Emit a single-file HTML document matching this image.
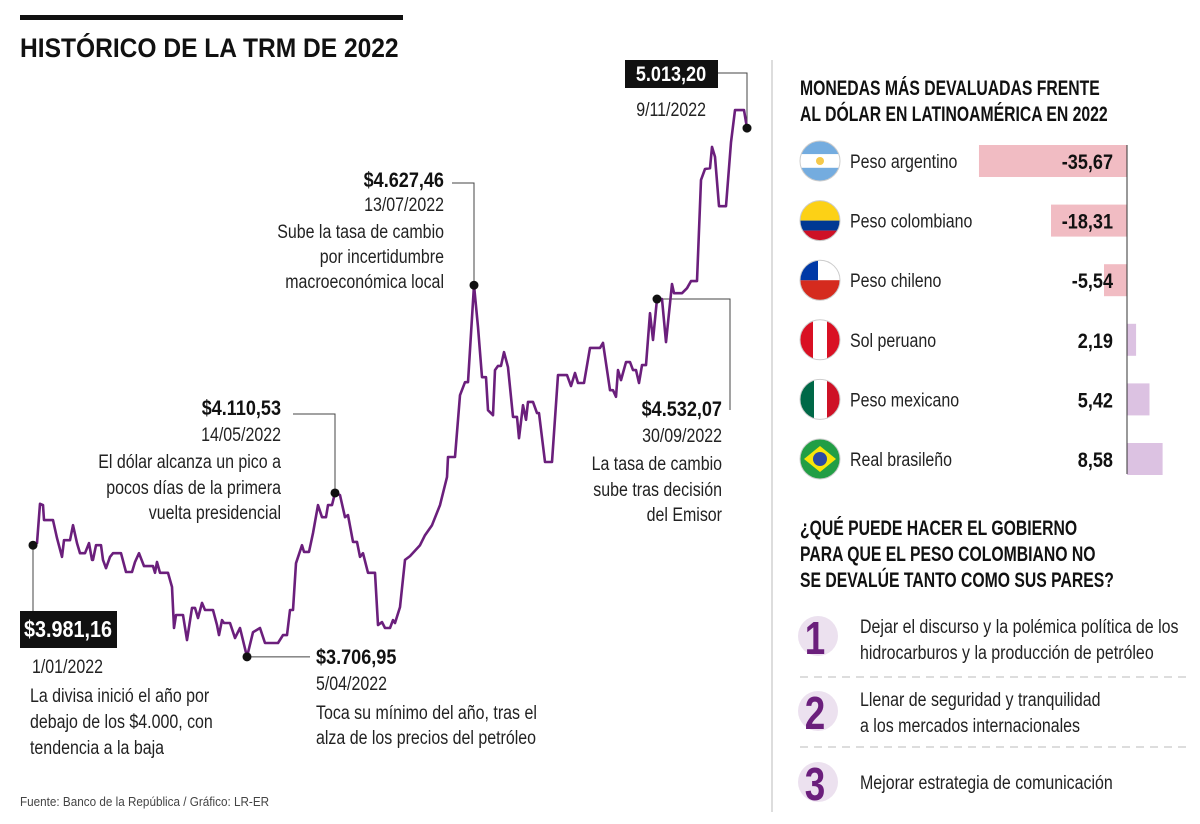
<!DOCTYPE html>
<html><head><meta charset="utf-8">
<style>
html,body{margin:0;padding:0;background:#fff;}
svg{display:block;font-family:"Liberation Sans Narrow","Liberation Sans",sans-serif;}
.t{font-size:19px;fill:#222;}
.b{font-size:21px;font-weight:bold;fill:#111;}
.w{font-size:21px;font-weight:bold;fill:#fff;}
.h{font-size:21px;font-weight:bold;fill:#111;}
</style></head>
<body>
<svg id="chart" width="1200" height="824" viewBox="0 0 1200 824">
  <rect x="20" y="15" width="383" height="5" fill="#111"/>
  <text x="20" y="57" data-k="0.91" style="font-size:27px;font-weight:bold;fill:#111">HISTÓRICO DE LA TRM DE 2022</text>
  <g id="connectors" stroke="#444" stroke-width="1" fill="none"></g>
  <path id="trm-line" fill="none" stroke="#6b1f7c" stroke-width="2.6" stroke-linejoin="round"/>
  <g id="dots"></g>

  <rect x="625" y="60" width="93" height="28" fill="#111"/>
  <text x="671" y="81" text-anchor="middle" class="w">5.013,20</text>
  <text x="706" y="116" text-anchor="end" class="t">9/11/2022</text>

  <g text-anchor="end">
    <text x="444" y="187" class="b">$4.627,46</text>
    <text x="444" y="211" class="t">13/07/2022</text>
    <text x="444" y="238" class="t">Sube la tasa de cambio</text>
    <text x="444" y="263" class="t">por incertidumbre</text>
    <text x="444" y="288" class="t">macroeconómica local</text>
  </g>
  <g text-anchor="end">
    <text x="281" y="415" class="b">$4.110,53</text>
    <text x="281" y="441" class="t">14/05/2022</text>
    <text x="281" y="468" class="t">El dólar alcanza un pico a</text>
    <text x="281" y="494" class="t">pocos días de la primera</text>
    <text x="281" y="519" class="t">vuelta presidencial</text>
  </g>
  <g>
    <rect x="20" y="611" width="97" height="37" fill="#111"/>
    <text x="68" y="637" text-anchor="middle" class="w" style="font-size:23px">$3.981,16</text>
    <text x="32" y="673" class="t">1/01/2022</text>
    <text x="30" y="702" class="t">La divisa inició el año por</text>
    <text x="30" y="728" class="t">debajo de los $4.000, con</text>
    <text x="30" y="754" class="t">tendencia a la baja</text>
  </g>
  <g>
    <text x="316" y="664" class="b">$3.706,95</text>
    <text x="316" y="690" class="t">5/04/2022</text>
    <text x="316" y="719" class="t">Toca su mínimo del año, tras el</text>
    <text x="316" y="744" class="t">alza de los precios del petróleo</text>
  </g>
  <g text-anchor="end">
    <text x="722" y="416" class="b">$4.532,07</text>
    <text x="722" y="442" class="t">30/09/2022</text>
    <text x="722" y="470" class="t">La tasa de cambio</text>
    <text x="722" y="496" class="t">sube tras decisión</text>
    <text x="722" y="521" class="t">del Emisor</text>
  </g>
  <text x="20" y="806" style="font-size:13px;fill:#444">Fuente: Banco de la República / Gráfico: LR-ER</text>

  <line x1="772" y1="60" x2="772" y2="812" stroke="#bbb" stroke-width="1"/>

  <text x="800" y="95" class="h" data-k="0.75">MONEDAS MÁS DEVALUADAS FRENTE</text>
  <text x="800" y="121" class="h" data-k="0.75">AL DÓLAR EN LATINOAMÉRICA EN 2022</text>
  <g id="bars"></g>

  <text x="800" y="535" class="h" data-k="0.75">¿QUÉ PUEDE HACER EL GOBIERNO</text>
  <text x="800" y="561" class="h" data-k="0.75">PARA QUE EL PESO COLOMBIANO NO</text>
  <text x="800" y="587" class="h" data-k="0.75">SE DEVALÚE TANTO COMO SUS PARES?</text>

  <g>
    <circle cx="818" cy="636" r="20" fill="#ece1ef"/>
    <text x="815" y="654" text-anchor="middle" data-k="0.8" style="font-size:46px;font-weight:bold;fill:#6b1f7c">1</text>
    <text x="860" y="633" class="t">Dejar el discurso y la polémica política de los</text>
    <text x="860" y="659" class="t">hidrocarburos y la producción de petróleo</text>
  </g>
  <line x1="800" y1="677" x2="1190" y2="677" stroke="#bbb" stroke-dasharray="8,6"/>
  <g>
    <circle cx="818" cy="711" r="20" fill="#ece1ef"/>
    <text x="815" y="729" text-anchor="middle" data-k="0.8" style="font-size:46px;font-weight:bold;fill:#6b1f7c">2</text>
    <text x="860" y="706" class="t">Llenar de seguridad y tranquilidad</text>
    <text x="860" y="732" class="t">a los mercados internacionales</text>
  </g>
  <line x1="800" y1="747" x2="1190" y2="747" stroke="#bbb" stroke-dasharray="8,6"/>
  <g>
    <circle cx="818" cy="782" r="20" fill="#ece1ef"/>
    <text x="815" y="800" text-anchor="middle" data-k="0.8" style="font-size:46px;font-weight:bold;fill:#6b1f7c">3</text>
    <text x="860" y="789" class="t">Mejorar estrategia de comunicación</text>
  </g>
</svg>
<script>
// TRM series (trading-day index, COP per USD)
const dayIdx = [0,4,7,10,11,20,24,29,31,37,40,44,47,52,56,59,60,63,68,70,73,77,80,88,93,99,102,106,111,120,122,124,127,135,139,141,143,150,154,159,162,165,169,172,180,184,186,189,191,197,202,207,214,220,227,232,245,250,254,257,260,263,269,271,276,280,285,289,293,295,299,302,307,312,315,320,324,327,330,335,342,345,349,352,357,360,362,367,372,377,387,392,399,407,414,415,422,427,432,435,441,445,449,453,455,460,462,465,468,471,475,480,484,486,490,493,495,500,504,506,512,519,525,529,534,538,542,545,551,557,567,570,577,580,583,585,588,593,597,600,603,606,609,613,617,620,624,629,633,639,641,649,654,658,664,668,672,677,679,682,686,693,698,702,711,714];
const trm = [3972,3977,4071,4068,4032,4032,3989,3944,3984,3984,4020,3977,3953,3953,3977,3937,3937,3972,3972,3937,3917,3944,3953,3953,3908,3908,3932,3953,3922,3922,3906,3932,3906,3906,3872,3774,3805,3805,3745,3822,3822,3798,3834,3817,3817,3781,3757,3793,3786,3786,3750,3774,3705,3764,3774,3738,3738,3757,3757,3817,3817,3929,3972,3956,3956,4001,4068,4039,4039,4068,4068,4097,4092,4039,4044,3980,3980,3944,3953,3906,3906,3781,3788,3774,3774,3793,3786,3824,3937,3946,3972,3996,4020,4068,4135,4183,4183,4331,4362,4362,4594,4494,4374,4374,4295,4283,4391,4401,4401,4434,4398,4279,4279,4228,4307,4272,4315,4315,4288,4288,4171,4171,4379,4379,4379,4353,4384,4360,4360,4444,4444,4456,4343,4343,4327,4391,4367,4410,4410,4391,4391,4360,4403,4403,4527,4463,4561,4561,4458,4597,4575,4575,4587,4604,4604,4846,4872,4874,4925,4901,4783,4783,4936,5013,5013,4970];
const highlightDays = [0,214,302,441,624,714];

const currencies = ["Peso argentino","Peso colombiano","Peso chileno","Sol peruano","Peso mexicano","Real brasileño"];
const changes = [-35.67,-18.31,-5.54,2.19,5.42,8.58];
const changeLabels = ["-35,67","-18,31","-5,54","2,19","5,42","8,58"];

const NS = "http://www.w3.org/2000/svg";
const xScale = d => 33 + d * (714/714);
const yScale = v => 656 - (v - 3707) * 0.418;

let dStr = "";
for (let i = 0; i < trm.length; i++) {
  dStr += (i ? "L" : "M") + xScale(dayIdx[i]).toFixed(1) + "," + yScale(trm[i]).toFixed(1);
}
document.getElementById("trm-line").setAttribute("d", dStr);

const dots = document.getElementById("dots");
const pts = highlightDays.map(d => { const i = dayIdx.indexOf(d); return [xScale(d), yScale(trm[i])]; });
pts.forEach(p => {
  const c = document.createElementNS(NS, "circle");
  c.setAttribute("cx", p[0]); c.setAttribute("cy", p[1]); c.setAttribute("r", 4.5); c.setAttribute("fill", "#111");
  
  
  dots.appendChild(c);
});
const conn = document.getElementById("connectors");
const cpaths = [
  `M${pts[0][0]},${pts[0][1]}V611`,
  `M${pts[1][0]},${pts[1][1]}H310`,
  `M293,414H${pts[2][0]}V${pts[2][1]}`,
  `M452,183H${pts[3][0]}V${pts[3][1]}`,
  `M${pts[4][0]},${pts[4][1]}H730V410`,
  `M718,73H${pts[5][0]}V${pts[5][1]}`
];
cpaths.forEach(d => {
  const p = document.createElementNS(NS, "path");
  p.setAttribute("d", d);
  
  
  conn.appendChild(p);
});

const bars = document.getElementById("bars");
const zeroX = 1127, unit = 4.15, rowY0 = 161, rowStep = 59.6;
const flagDefs = [
  [["#74acdf",0,0.33],["#fff",0.33,0.67],["#74acdf",0.67,1]],
  [["#fcd116",0,0.5],["#003893",0.5,0.75],["#ce1126",0.75,1]],
  [["#fff",0,0.5],["#d52b1e",0.5,1]],
  null,null,null
];
currencies.forEach((name, i) => {
  const cy = rowY0 + i * rowStep;
  const g = document.createElementNS(NS, "g");
  
  
  const clipId = "clip" + i;
  const cp = document.createElementNS(NS, "clipPath"); cp.setAttribute("id", clipId);
  const cc = document.createElementNS(NS, "circle"); cc.setAttribute("cx", 820); cc.setAttribute("cy", cy); cc.setAttribute("r", 20);
  cp.appendChild(cc); g.appendChild(cp);
  const fg = document.createElementNS(NS, "g"); fg.setAttribute("clip-path", `url(#${clipId})`);
  const addR = (x, y, w, h, f) => { const r = document.createElementNS(NS, "rect"); r.setAttribute("x", x); r.setAttribute("y", y); r.setAttribute("width", w); r.setAttribute("height", h); r.setAttribute("fill", f); fg.appendChild(r); };
  if (flagDefs[i]) {
    flagDefs[i].forEach(s => addR(800, cy - 20 + s[1]*40, 40, (s[2]-s[1])*40, s[0]));
    if (i === 2) { addR(800, cy - 20, 18, 20, "#0039a6"); }
  } else if (i === 3) {
    addR(800, cy-20, 40, 40, "#d91023"); addR(813, cy-20, 14, 40, "#fff");
  } else if (i === 4) {
    addR(800, cy-20, 14, 40, "#006847"); addR(814, cy-20, 13, 40, "#fff"); addR(827, cy-20, 13, 40, "#ce1126");
  } else {
    addR(800, cy-20, 40, 40, "#229e45");
    const pg = document.createElementNS(NS, "polygon"); pg.setAttribute("points", `820,${cy-13} 836,${cy} 820,${cy+13} 804,${cy}`); pg.setAttribute("fill", "#f8e509"); fg.appendChild(pg);
    const bc = document.createElementNS(NS, "circle"); bc.setAttribute("cx", 820); bc.setAttribute("cy", cy); bc.setAttribute("r", 7); bc.setAttribute("fill", "#2b49a3"); fg.appendChild(bc);
  }
  if (i === 0) { const s = document.createElementNS(NS, "circle"); s.setAttribute("cx", 820); s.setAttribute("cy", cy); s.setAttribute("r", 4); s.setAttribute("fill", "#f6c94a"); fg.appendChild(s); }
  g.appendChild(fg);
  const ring = document.createElementNS(NS, "circle"); ring.setAttribute("cx", 820); ring.setAttribute("cy", cy); ring.setAttribute("r", 20); ring.setAttribute("fill", "none"); ring.setAttribute("stroke", "#ccc"); ring.setAttribute("stroke-width", 1);
  g.appendChild(ring);
  const v = changes[i];
  const bar = document.createElementNS(NS, "rect");
  const w = Math.abs(v) * unit;
  bar.setAttribute("x", v < 0 ? zeroX - w : zeroX); bar.setAttribute("y", cy - 16);
  bar.setAttribute("width", w); bar.setAttribute("height", 32);
  bar.setAttribute("fill", v < 0 ? "#f1bcc3" : "#dcc2e2");
  
  
  g.appendChild(bar);
  const lbl = document.createElementNS(NS, "text");
  lbl.setAttribute("x", 850); lbl.setAttribute("y", cy + 7); lbl.setAttribute("class", "t");
  lbl.textContent = name;
  
  
  g.appendChild(lbl);
  const val = document.createElementNS(NS, "text");
  val.setAttribute("x", 1113); val.setAttribute("y", cy + 8); val.setAttribute("text-anchor", "end"); val.setAttribute("class", "b");
  val.textContent = changeLabels[i];
  
  
  g.appendChild(val);
  bars.appendChild(g);
});
const axis = document.createElementNS(NS, "line");
axis.setAttribute("x1", zeroX); axis.setAttribute("x2", zeroX); axis.setAttribute("y1", 145); axis.setAttribute("y2", 474);
axis.setAttribute("stroke", "#333"); axis.setAttribute("stroke-width", 1);


bars.appendChild(axis);

// condense text to mimic a narrow typeface
document.querySelectorAll("#chart text").forEach(t => {
  let k = t.getAttribute("data-k");
  if (!k) {
    const c = t.getAttribute("class") || "";
    k = (c.includes("b") || c.includes("w")) ? 0.86 : (c.includes("t") ? 0.84 : 0.9);
  }
  const len = t.getComputedTextLength();
  if (len > 0) {
    t.setAttribute("textLength", (len * k).toFixed(1));
    t.setAttribute("lengthAdjust", "spacingAndGlyphs");
  }
});
</script>
</body></html>
